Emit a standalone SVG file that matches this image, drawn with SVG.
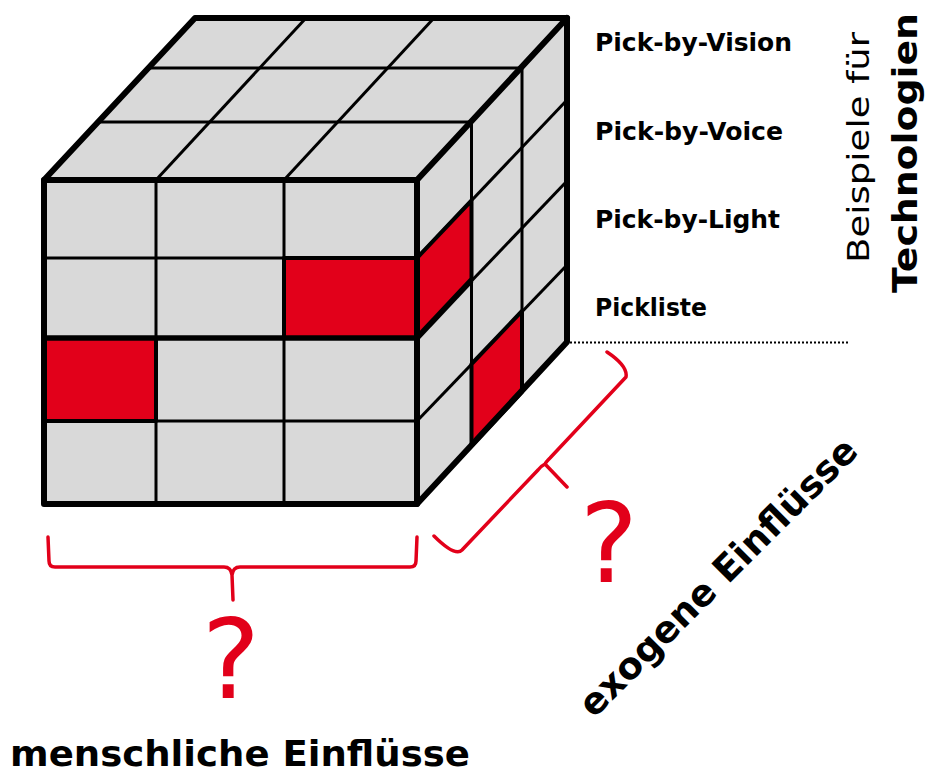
<svg xmlns="http://www.w3.org/2000/svg" width="927" height="776" viewBox="0 0 927 776">
<style>
.face{fill:#d9d9d9;stroke:none}
.red{fill:#e2001a;stroke:#000;stroke-width:4;stroke-linejoin:round}
.thin{stroke:#000;stroke-width:3;fill:none;stroke-linecap:butt}
.mid{stroke:#000;stroke-width:5.5;fill:none}
.outer{stroke:#000;stroke-width:6;fill:none;stroke-linejoin:round;stroke-linecap:round}
.brace{stroke:#e2001a;stroke-width:3.5;fill:none;stroke-linejoin:round;stroke-linecap:round}
.lbl{font-family:"DejaVu Sans","Verdana",sans-serif;font-weight:bold;fill:#000}
.q{font-family:"DejaVu Sans",sans-serif;font-size:110px;fill:#e2001a;text-anchor:middle}
</style>
<g id="cube">
  <polygon class="face" points="44,180 195,18 567,18 417,180"/>
  <polygon class="face" points="417,180 567,18 567,342 417,504"/>
  <rect class="face" x="44" y="180" width="373" height="324"/>
  <g class="thin">
    <line x1="156" y1="180" x2="156" y2="504"/>
    <line x1="284" y1="180" x2="284" y2="504"/>
    <line x1="44" y1="258" x2="417" y2="258"/>
    <line x1="44" y1="421" x2="417" y2="421"/>
    <line x1="156" y1="180" x2="306" y2="18"/>
    <line x1="284" y1="180" x2="434" y2="18"/>
    <line x1="98" y1="122" x2="471.5" y2="122"/>
    <line x1="148" y1="68" x2="522" y2="68"/>
    <line x1="471.5" y1="122" x2="471.5" y2="446"/>
    <line x1="522" y1="68" x2="522" y2="392"/>
    <line x1="417" y1="258" x2="567" y2="100"/>
    <line x1="417" y1="338" x2="567" y2="181"/>
    <line x1="417" y1="421" x2="567" y2="265"/>
  </g>
  <polygon class="red" points="284,258 417,258 417,338 284,338"/>
  <polygon class="red" points="44,338 156,338 156,421 44,421"/>
  <polygon class="red" points="417,258 471.5,200.5 471.5,280 417,338"/>
  <polygon class="red" points="471.5,364 522,311 522,392 471.5,446"/>
  <line class="mid" x1="44" y1="338" x2="417" y2="338"/>
  <line class="mid" x1="417" y1="338" x2="471.5" y2="280"/>
  <polygon class="outer" points="44,180 195,18 567,18 567,342 417,504 44,504"/>
  <line class="outer" x1="44" y1="180" x2="417" y2="180"/>
  <line class="outer" x1="417" y1="180" x2="417" y2="504"/>
  <line class="outer" x1="417" y1="180" x2="567" y2="18"/>
</g>
<g id="baseline-dotted">
  <line x1="570" y1="342.5" x2="848" y2="342.5" stroke="#000" stroke-width="2" stroke-dasharray="2 2"/>
</g>
<g id="tech-labels" class="lbl" font-size="24">
  <text x="595" y="51" textLength="197" lengthAdjust="spacingAndGlyphs">Pick-by-Vision</text>
  <text x="595" y="140" textLength="188" lengthAdjust="spacingAndGlyphs">Pick-by-Voice</text>
  <text x="595" y="228" textLength="185" lengthAdjust="spacingAndGlyphs">Pick-by-Light</text>
  <text x="595" y="316" textLength="112" lengthAdjust="spacingAndGlyphs">Pickliste</text>
</g>
<g id="axis-title-tech">
  <text transform="translate(869,263) rotate(-90)" font-family="DejaVu Sans,Verdana,sans-serif" font-size="31" textLength="231" lengthAdjust="spacingAndGlyphs">Beispiele für</text>
  <text class="lbl" transform="translate(917,293) rotate(-90)" font-size="33" textLength="280" lengthAdjust="spacingAndGlyphs">Technologien</text>
</g>
<g id="human-brace">
  <path class="brace" d="M48,537 L49,561 Q49,567 55,567 L224,567 Q231,567 232,575 L233,600 M232,575 Q233,567 240,567 L410,567 Q416,567 416,561 L417,537"/>
  <text class="q" x="231" y="698">?</text>
  <text class="lbl" x="10" y="766" font-size="36" textLength="460" lengthAdjust="spacingAndGlyphs">menschliche Einflüsse</text>
</g>
<g id="exogen-brace">
  <path class="brace" d="M607,352 Q628,366 626,377 L550,458 Q546,462 545,464 L567,487 M545,464 Q541,466 538,470 L462,550 Q455,557 434,536"/>
  <text class="q" x="609" y="582">?</text>
  <text class="lbl" transform="translate(594,719) rotate(-45)" font-size="37" textLength="376" lengthAdjust="spacingAndGlyphs">exogene Einflüsse</text>
</g>
</svg>
